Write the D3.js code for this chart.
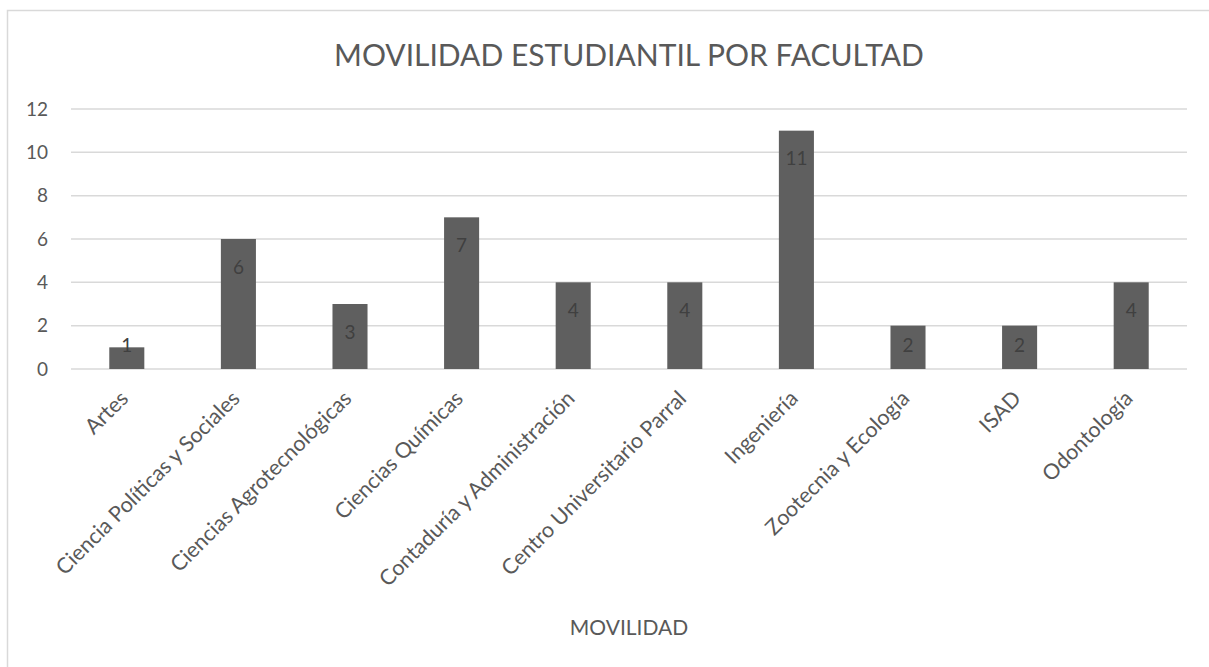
<!DOCTYPE html>
<html>
<head>
<meta charset="utf-8">
<script src="https://cdn.jsdelivr.net/npm/d3@7"></script>
<style>
  body { margin: 0; background: #fff; }
  text { font-family: Lato, "Open Sans", sans-serif; }
</style>
</head>
<body>
<div id="chart"></div>
<script>
// chart data
const facultades = ["Artes", "Ciencia Políticas y Sociales", "Ciencias Agrotecnológicas",
    "Ciencias Químicas", "Contaduría y Administración", "Centro Universitario Parral",
    "Ingeniería", "Zootecnia y Ecología", "ISAD", "Odontología"];
const movilidad = [1, 6, 3, 7, 4, 4, 11, 2, 2, 4];
const yTicks = [0, 2, 4, 6, 8, 10, 12];
const chartTitle = "MOVILIDAD ESTUDIANTIL POR FACULTAD";
const xTitle = "MOVILIDAD";

const W = 1209, H = 667;
const margin = {top: 109, right: 22, bottom: 298, left: 71},
    width = W - margin.left - margin.right,
    height = H - margin.top - margin.bottom;

const svg = d3.select("#chart").append("svg")
    .attr("width", W)
    .attr("height", H);

// outer chart border
svg.append("rect")
    .attr("x", 7.5).attr("y", 10.5)
    .attr("width", W + 20).attr("height", H + 20)
    .attr("fill", "none")
    .attr("stroke", "#d9d9d9")
    .attr("stroke-width", 1.5);

svg.append("text")
    .attr("x", margin.left + width / 2)
    .attr("y", 66)
    .attr("text-anchor", "middle")
    .style("font-size", "30px")
    .style("fill", "#595959")
    .text(chartTitle);

const g = svg.append("g")
    .attr("transform", "translate(" + margin.left + "," + margin.top + ")");

const x = d3.scaleBand()
    .domain(facultades)
    .range([0, width])
    .paddingInner(0.686)
    .paddingOuter(0.343);

const y = d3.scaleLinear()
    .domain([0, 12])
    .range([height, 0]);

// gridlines
g.selectAll("line.grid").data(yTicks)
    .enter().append("line")
    .attr("class", "grid")
    .attr("x1", 0).attr("x2", width)
    .attr("y1", d => y(d)).attr("y2", d => y(d))
    .attr("stroke", "#d9d9d9")
    .attr("stroke-width", 1.5);

// y tick labels
g.selectAll("text.ytick").data(yTicks)
    .enter().append("text")
    .attr("class", "ytick")
    .attr("x", -23)
    .attr("y", d => y(d))
    .attr("dy", "0.35em")
    .attr("text-anchor", "end")
    .style("font-size", "19px")
    .style("fill", "#595959")
    .text(d => d);

// bars
g.selectAll("rect.bar").data(movilidad)
    .enter().append("rect")
    .attr("class", "bar")
    .attr("x", (d, i) => x(facultades[i]))
    .attr("width", x.bandwidth())
    .attr("y", d => y(d))
    .attr("height", d => height - y(d))
    .attr("fill", "#5f5f5f");

// value labels, inside end
g.selectAll("text.val").data(movilidad)
    .enter().append("text")
    .attr("class", "val")
    .attr("x", (d, i) => x(facultades[i]) + x.bandwidth() / 2)
    .attr("y", d => Math.min(y(d) + 28, height - 24))
    .attr("dy", "0.35em")
    .attr("text-anchor", "middle")
    .style("font-size", "19px")
    .style("fill", "#404040")
    .text(d => d);

// x labels rotated
g.selectAll("text.xlab").data(facultades)
    .enter().append("text")
    .attr("class", "xlab")
    .attr("transform", d => "translate(" + (x(d) + x.bandwidth() / 2 - 8) + "," + (height + 20) + ") rotate(-45)")
    .attr("text-anchor", "end")
    .attr("dy", "0.71em")
    .style("font-size", "21.5px")
    .style("fill", "#595959")
    .text(d => d);

g.append("text")
    .attr("x", width / 2)
    .attr("y", 526)
    .attr("text-anchor", "middle")
    .style("font-size", "21px")
    .style("fill", "#595959")
    .text(xTitle);
</script>
</body>
</html>
